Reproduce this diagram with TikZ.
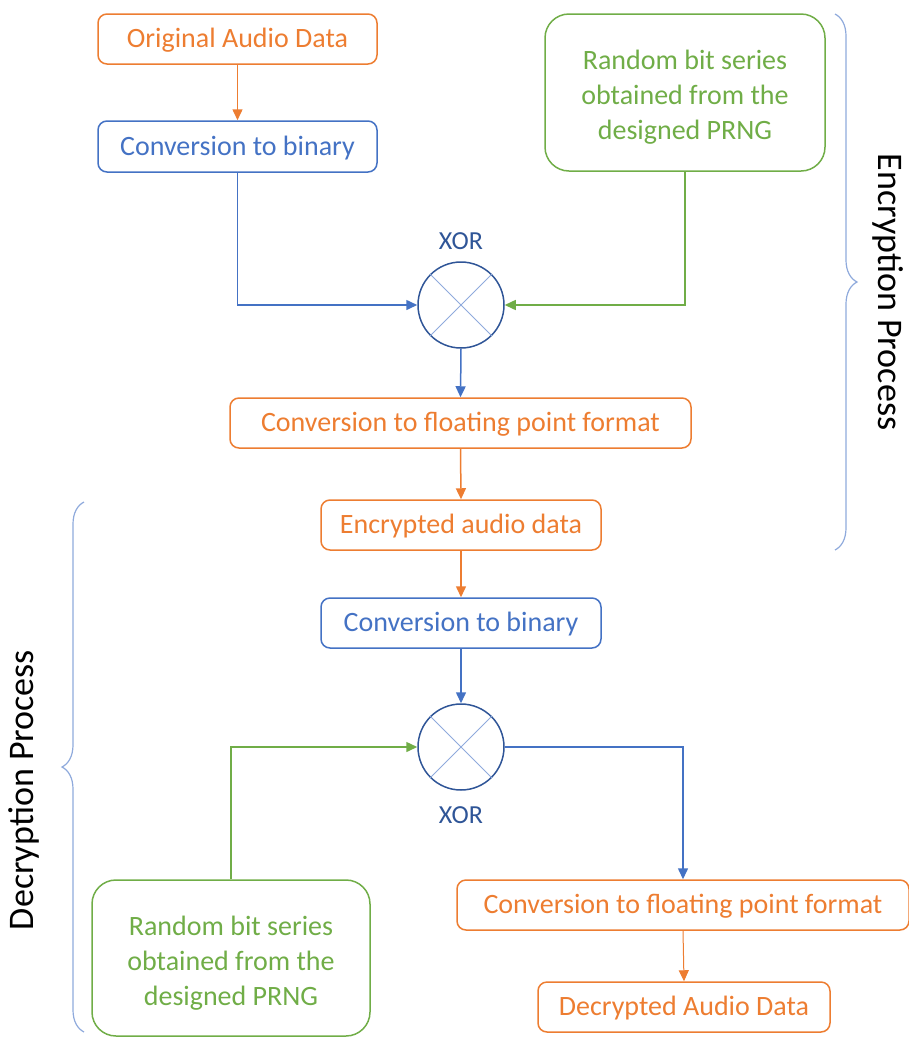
\documentclass[tikz,border=0pt]{standalone}
\usepackage{fontspec}
\setmainfont{Carlito}
\usetikzlibrary{arrows.meta,decorations.pathreplacing,calc}
\definecolor{cor}{HTML}{ED7D31}
\definecolor{cbl}{HTML}{4472C4}
\definecolor{cgr}{HTML}{70AD47}
\definecolor{cdk}{HTML}{2F5597}
\definecolor{clt}{HTML}{8FAADC}
\newcommand{\prngtext}{\raisebox{-5pt}[\height][\depth]{\begin{tabular}{@{}c@{}}Random bit series\\obtained from the\\designed PRNG\end{tabular}}}
\tikzset{
  box/.style={draw, rounded corners=9pt, line width=1.5pt, minimum height=50pt, inner sep=0pt, text height=20pt, text depth=3pt, font=\fontsize{28}{33}\selectfont},
  obox/.style={box, draw=cor, text=cor},
  bbox/.style={box, draw=cbl, text=cbl},
  gbox/.style={draw=cgr, text=cgr, rounded corners=24pt, line width=1.5pt, inner sep=0pt, font=\fontsize{28}{35}\selectfont},
  xorc/.style={circle, draw=cdk, line width=1.5pt, minimum size=86pt, inner sep=0pt},
  con/.style={line width=1.5pt, -{Triangle[length=11pt,width=10pt]}},
  xlab/.style={text=cdk, font=\fontsize{26}{30}\selectfont},
  plab/.style={font=\fontsize{36}{42}\selectfont},
  br/.style={draw=clt, line width=1.2pt, decorate, decoration={brace, amplitude=22pt}}
}
\begin{document}
\begin{tikzpicture}[x=1pt,y=-1pt]
\useasboundingbox (0,0) rectangle (909,1037);
\node[obox, minimum width=279pt] (orig) at (237.5,39) {Original Audio Data};
\node[bbox, minimum width=279pt, minimum height=51pt] (bin1) at (237.5,146.5) {Conversion to binary};
\node[gbox, minimum width=280pt, minimum height=157pt] (prng1) at (685,92.5) {\prngtext};
\node[xorc] (x1) at (461,305) {};
\node[xlab] (xl1) at (461,241) {XOR};
\node[obox, minimum width=461pt] (flt1) at (460.5,423) {Conversion to floating point format};
\node[obox, minimum width=280pt] (enc) at (461,525) {Encrypted audio data};
\node[bbox, minimum width=280pt] (bin2) at (461,623) {Conversion to binary};
\node[xorc] (x2) at (461,747) {};
\node[xlab] (xl2) at (461,815) {XOR};
\node[gbox, minimum width=278pt, minimum height=156pt] (prng2) at (231,958) {\prngtext};
\node[obox, minimum width=452pt] (flt2) at (683,905) {Conversion to floating point format};
\node[obox, minimum width=292pt] (dec) at (684,1007) {Decrypted Audio Data};
\foreach \c in {x1,x2}{
  \draw[clt, line width=1pt] (\c.45) -- (\c.225);
  \draw[clt, line width=1pt] (\c.135) -- (\c.315);
}
\draw[con, cor] (orig) -- (bin1);
\draw[con, cbl] (bin1.south) |- (x1.west);
\draw[con, cgr] (prng1.south) |- (x1.east);
\draw[con, cbl] (x1.south) -- (flt1.north);
\draw[con, cor] (flt1.south) -- (enc.north);
\draw[con, cor] (enc.south) -- (bin2.north);
\draw[con, cbl] (bin2.south) -- (x2.north);
\draw[con, cgr] (prng2.north) |- (x2.west);
\draw[con, cbl] (x2.east) -| (flt2.north);
\draw[con, cor, line width=1pt] (flt2.south) -- (dec.north);
\coordinate (rb1) at (835,14);
\coordinate (rb2) at (835,550);
\draw[br] (rb1) -- (rb2);
\node[plab, rotate=-90] (encp) at (888,292) {Encryption Process};
\coordinate (lb1) at (84,1032);
\coordinate (lb2) at (84,502);
\draw[br] (lb1) -- (lb2);
\node[plab, rotate=90] (decp) at (24,790) {Decryption Process};
\end{tikzpicture}
\end{document}
